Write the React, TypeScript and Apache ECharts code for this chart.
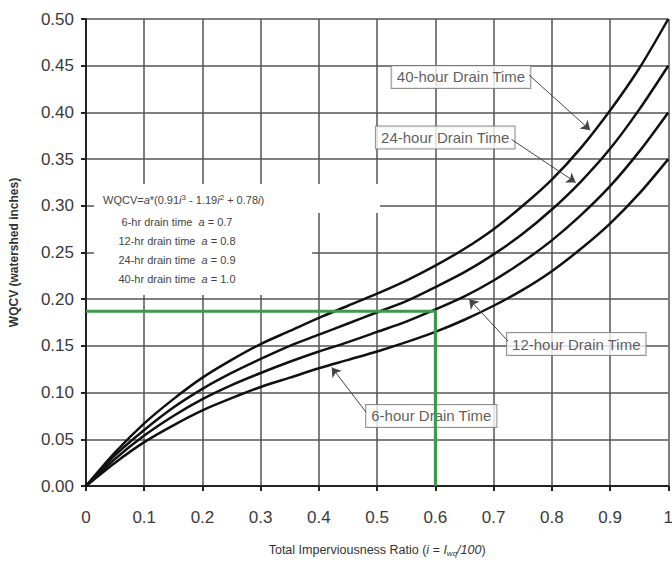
import React, { useEffect, useRef } from "react";
import * as echarts from "echarts";

const xValues = [0, 0.05, 0.1, 0.15, 0.2, 0.25, 0.3, 0.35, 0.4, 0.45, 0.5, 0.55, 0.6, 0.65, 0.7, 0.75, 0.8, 0.85, 0.9, 0.95, 1.0];
const wqcv40 = [0, 0.036, 0.067, 0.093, 0.116, 0.135, 0.152, 0.166, 0.180, 0.193, 0.206, 0.220, 0.236, 0.254, 0.275, 0.300, 0.328, 0.362, 0.402, 0.447, 0.500];
const wqcv24 = [0, 0.033, 0.060, 0.084, 0.104, 0.121, 0.136, 0.150, 0.162, 0.174, 0.186, 0.198, 0.213, 0.229, 0.248, 0.270, 0.296, 0.326, 0.361, 0.403, 0.450];
const wqcv12 = [0, 0.029, 0.054, 0.075, 0.093, 0.108, 0.121, 0.133, 0.144, 0.154, 0.165, 0.176, 0.189, 0.203, 0.220, 0.240, 0.263, 0.290, 0.321, 0.358, 0.400];
const wqcv6 = [0, 0.025, 0.047, 0.065, 0.081, 0.094, 0.106, 0.116, 0.126, 0.135, 0.144, 0.154, 0.165, 0.178, 0.193, 0.210, 0.230, 0.254, 0.281, 0.313, 0.350];

const curveNames = ["40-hour", "24-hour", "12-hour", "6-hour"];
const curveValues = [wqcv40, wqcv24, wqcv12, wqcv6];

// green example reading: i = 0.6 -> WQCV ≈ 0.187
const examplePath = [[0, 0.187], [0.6, 0.187], [0.6, 0]];

// callout boxes (label, box center) and arrows (from, to)
const calloutLabels = ["40-hour Drain Time", "24-hour Drain Time", "12-hour Drain Time", "6-hour Drain Time"];
const calloutCenters = [[0.644, 0.438], [0.617, 0.373], [0.842, 0.152], [0.593, 0.075]];
const arrowFrom = [[0.761, 0.440], [0.731, 0.371], [0.725, 0.155], [0.481, 0.079]];
const arrowTo = [[0.866, 0.381], [0.841, 0.325], [0.658, 0.200], [0.422, 0.127]];

const legendLines = [
  "6-hr drain time  {it|a} = 0.7",
  "12-hr drain time  {it|a} = 0.8",
  "24-hr drain time  {it|a} = 0.9",
  "40-hr drain time  {it|a} = 1.0",
];

const FONT = "'Liberation Sans', Arial, sans-serif";

export default function App() {
  const ref = useRef<HTMLDivElement>(null);
  useEffect(() => {
    document.body.style.margin = "0";
    const chart = echarts.init(ref.current!, null, { renderer: "svg" });
    const curveSeries = curveNames.map((n, k) => ({
      name: n,
      type: "line",
      data: xValues.map((x, i) => [x, curveValues[k][i]]),
      smooth: 0.3,
      showSymbol: false,
      lineStyle: { color: "#111", width: 2.5 },
      z: 3,
    }));
    chart.setOption({
      animation: false,
      backgroundColor: "#fff",
      textStyle: { fontFamily: FONT },
      grid: { left: 84, top: 19, right: 2, height: 468, containLabel: false },
      xAxis: {
        type: "value",
        min: 0,
        max: 1,
        interval: 0.1,
        name: "Total Imperviousness Ratio ({it|i = I}{sub|wq}{it|/100})",
        nameLocation: "middle",
        nameGap: 56,
        nameTextStyle: {
          fontSize: 12.5,
          color: "#333",
          rich: {
            it: { fontStyle: "italic", fontSize: 12.5, color: "#333" },
            sub: { fontStyle: "italic", fontSize: 8, color: "#333", padding: [7, 0, 0, 0] },
          },
        },
        axisLine: { show: true, lineStyle: { color: "#222", width: 2 } },
        axisTick: { show: true, length: 5, lineStyle: { color: "#222", width: 2 } },
        axisLabel: { fontSize: 17, color: "#3a3a3a", margin: 23 },
        splitLine: { show: true, lineStyle: { color: "#555", width: 1.5 } },
      },
      yAxis: {
        type: "value",
        min: 0,
        max: 0.5,
        interval: 0.05,
        name: "WQCV (watershed inches)",
        nameLocation: "middle",
        nameGap: 66,
        nameTextStyle: { fontSize: 12, color: "#333", fontWeight: "bold" },
        axisLine: { show: true, lineStyle: { color: "#222", width: 2 } },
        axisTick: { show: true, length: 5, lineStyle: { color: "#222", width: 2 } },
        axisLabel: { fontSize: 17, color: "#3a3a3a", margin: 12, formatter: (v: number) => v.toFixed(2) },
        splitLine: { show: true, lineStyle: { color: "#555", width: 1.5 } },
      },
      series: [
        ...curveSeries,
        {
          name: "callouts",
          type: "scatter",
          symbolSize: 0,
          data: calloutCenters.map((c, i) => ({ value: c, name: calloutLabels[i] })),
          label: {
            show: true,
            position: "inside",
            formatter: (p: any) => p.name,
            fontFamily: FONT,
            fontSize: 15,
            color: "#333",
            backgroundColor: "#fff",
            borderColor: "#777",
            borderWidth: 1,
            padding: [4, 5, 3, 5],
          },
          z: 4,
          markLine: {
            silent: true,
            symbol: ["none", "arrow"],
            symbolSize: [8, 10],
            label: { show: false },
            lineStyle: { color: "#444", width: 1, type: "solid" },
            data: arrowFrom.map((f, i) => [
              { coord: f, symbol: "none" },
              { coord: arrowTo[i], symbol: "arrow", symbolSize: 9, itemStyle: { color: "#111" } },
            ]),
          },
        },
        {
          name: "example",
          type: "line",
          data: examplePath,
          showSymbol: false,
          lineStyle: { color: "#3c9a48", width: 3 },
          z: 5,
        },
      ],
      graphic: [
        { type: "rect", z: 50, shape: { x: 94, y: 184, width: 286, height: 29 }, style: { fill: "#fff" } },
        { type: "rect", z: 50, shape: { x: 94, y: 212, width: 218, height: 83 }, style: { fill: "#fff" } },
        {
          type: "text",
          z: 51,
          x: 103,
          y: 193,
          style: {
            text: "WQCV={it|a}*(0.91{it|i}{sup|3} - 1.19{it|i}{sup|2} + 0.78{it|i})",
            fontFamily: FONT,
            fontSize: 11,
            fill: "#444",
            rich: {
              it: { fontStyle: "italic", fontSize: 11, fill: "#444" },
              sup: { fontSize: 8, fill: "#444", padding: [0, 0, 6, 0] },
            },
          },
        },
        ...legendLines.map((t, i) => ({
          type: "text",
          z: 51,
          x: 177,
          y: 216 + i * 19.3,
          style: {
            text: t,
            align: "center",
            fontFamily: FONT,
            fontSize: 11,
            fill: "#444",
            rich: { it: { fontStyle: "italic", fontSize: 11, fill: "#444" } },
          },
        })),
      ],
    });
    return () => chart.dispose();
  }, []);
  return (
    <div style={{ width: 672, height: 562, overflow: "hidden" }}>
      <div ref={ref} style={{ width: 676, height: 562 }} />
    </div>
  );
}
